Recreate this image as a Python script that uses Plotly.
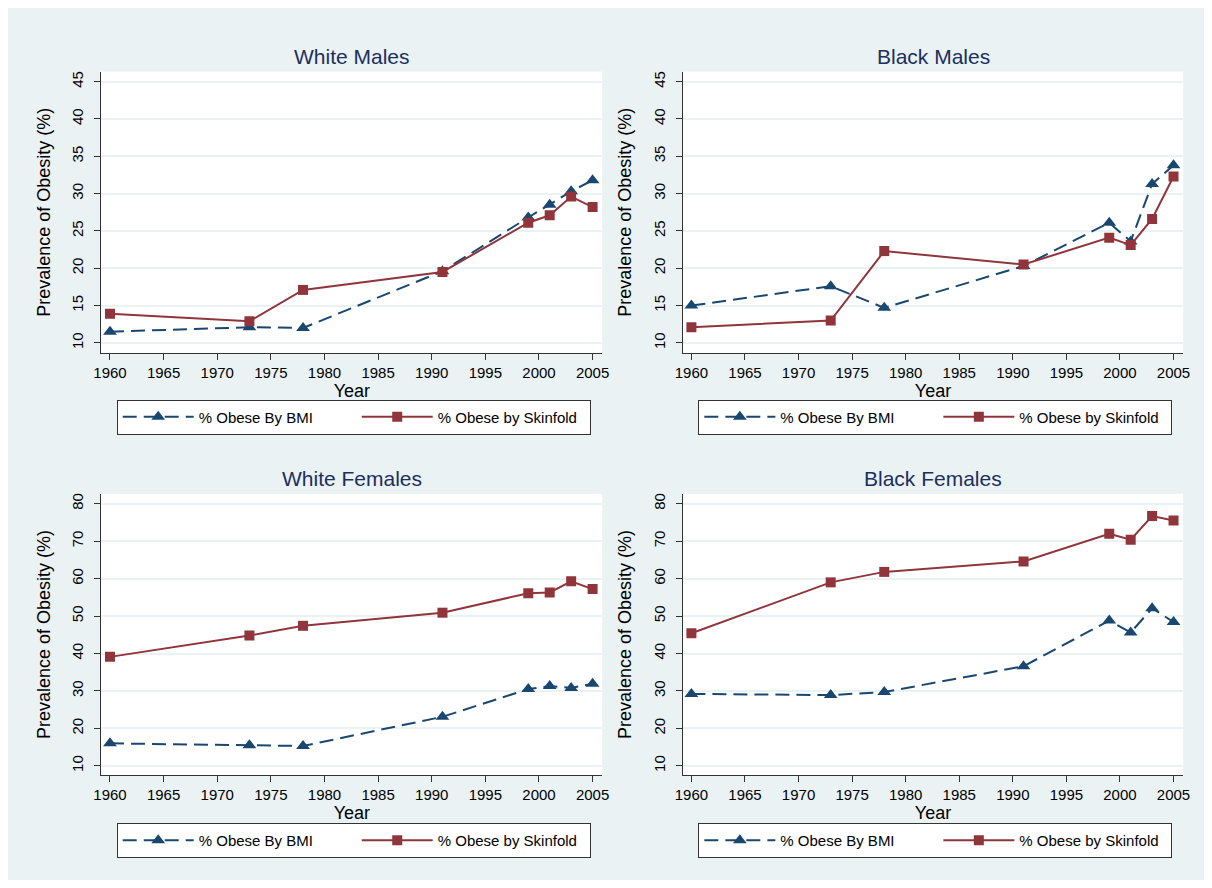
import plotly.graph_objects as go

years = [1960, 1973, 1978, 1991, 1999, 2001, 2003, 2005]

panel_titles = ["White Males", "Black Males", "White Females", "Black Females"]

wm_bmi = [11.5, 12.1, 12.0, 19.6, 26.8, 28.5, 30.3, 31.8]
wm_skin = [13.9, 12.9, 17.1, 19.5, 26.1, 27.1, 29.6, 28.2]
bm_bmi = [15.0, 17.6, 14.7, 20.3, 26.1, 23.6, 31.3, 33.8]
bm_skin = [12.1, 13.0, 22.3, 20.5, 24.1, 23.1, 26.6, 32.3]
wf_bmi = [16.0, 15.5, 15.3, 23.1, 30.5, 31.3, 30.8, 31.9]
wf_skin = [39.1, 44.8, 47.4, 50.9, 56.1, 56.3, 59.3, 57.2]
bf_bmi = [29.2, 28.9, 29.7, 36.6, 48.8, 45.6, 52.1, 48.4]
bf_skin = [45.4, 59.0, 61.8, 64.6, 72.0, 70.4, 76.7, 75.5]

bmi_name = "% Obese By BMI"
skin_name = "% Obese by Skinfold"

x_ticks = [1960, 1965, 1970, 1975, 1980, 1985, 1990, 1995, 2000, 2005]
y_ticks_male = [10, 15, 20, 25, 30, 35, 40, 45]
y_ticks_female = [10, 20, 30, 40, 50, 60, 70, 80]

W, H = 1196, 872
OX, OY = 8, 8  # page offset of the figure
BG = "#EAF2F3"
NAVY = "#1a476f"
MAROON = "#90353b"
TITLE_C = "#1c2f5e"
FONT = "Liberation Sans, Arial, sans-serif"

def px_x(p):
    return (p - OX) / W

def px_y(p):
    return 1 - (p - OY) / H

# panel geometry in page pixels: (left, right, top, bottom)
panels = [
    (94.5, 601.7, 70.7, 352.3),
    (683.3, 1190, 70.7, 352.3),
    (94.5, 601.7, 493.3, 775),
    (683.3, 1190, 493.3, 775),
]
legend_pos = [(110, 399), (699, 399), (110, 823), (699, 823)]
data = [
    (wm_bmi, wm_skin, y_ticks_male, [8.66, 46.34]),
    (bm_bmi, bm_skin, y_ticks_male, [8.66, 46.34]),
    (wf_bmi, wf_skin, y_ticks_female, [7.52, 82.67]),
    (bf_bmi, bf_skin, y_ticks_female, [7.52, 82.67]),
]

fig = go.Figure()
layout = dict(
    width=W, height=H,
    margin=dict(l=0, r=0, t=0, b=0),
    paper_bgcolor=BG,
    plot_bgcolor="white",
    font=dict(family=FONT, color="black"),
    annotations=[],
)

for i, (bmi, skin, yt, yr) in enumerate(data):
    n = "" if i == 0 else str(i + 1)
    xa, ya = "x" + n, "y" + n
    leg = "legend" + n
    l, r, t, b = panels[i]
    fig.add_trace(go.Scatter(
        x=years, y=bmi, name=bmi_name, mode="lines+markers",
        line=dict(color=NAVY, width=2, dash="14px,7px"),
        marker=dict(symbol="triangle-up", size=12, color=NAVY),
        xaxis=xa, yaxis=ya, legend=leg, showlegend=True, legendwidth=153))
    fig.add_trace(go.Scatter(
        x=years, y=skin, name=skin_name, mode="lines+markers",
        line=dict(color=MAROON, width=2),
        marker=dict(symbol="square", size=10, color=MAROON),
        xaxis=xa, yaxis=ya, legend=leg, showlegend=True, legendwidth=147))
    layout["xaxis" + n] = dict(
        domain=[px_x(l), px_x(r)], anchor=ya, range=[1959.2, 2005.9],
        tickvals=x_ticks, ticks="outside", ticklen=6, tickwidth=1,
        tickcolor="#333", showline=True, linecolor="#333", linewidth=1,
        showgrid=False, zeroline=False,
        tickfont=dict(size=15, color="black"),
        title=dict(text="Year", font=dict(size=18, color="black"), standoff=1),
    )
    layout["yaxis" + n] = dict(
        domain=[px_y(b), px_y(t)], anchor=xa, range=yr,
        tickvals=yt, ticks="outside", ticklen=6, tickwidth=1,
        tickcolor="#333", showline=True, linecolor="#333", linewidth=1,
        showgrid=True, gridcolor=BG, gridwidth=1.5, zeroline=False,
        tickangle=-90, tickfont=dict(size=15, color="black"),
        ticklabelstandoff=5,
        title=dict(text="Prevalence of Obesity (%)",
                   font=dict(size=18, color="black"), standoff=14),
    )
    lx, ly = legend_pos[i]
    layout[leg] = dict(
        x=px_x(lx), y=px_y(ly), xanchor="left", yanchor="top",
        orientation="h", bgcolor="white", bordercolor="#333", borderwidth=1,
        font=dict(size=15, color="black", family=FONT),
        itemwidth=71, tracegroupgap=0,
        itemclick=False, itemdoubleclick=False,
    )
    layout["annotations"].append(dict(
        text=panel_titles[i], xref="paper", yref="paper",
        x=px_x((l + r) / 2), y=px_y(t - 15), xanchor="center", yanchor="middle",
        showarrow=False, font=dict(size=21, color=TITLE_C, family=FONT)))

fig.update_layout(**layout)
fig.write_html("out.html")
